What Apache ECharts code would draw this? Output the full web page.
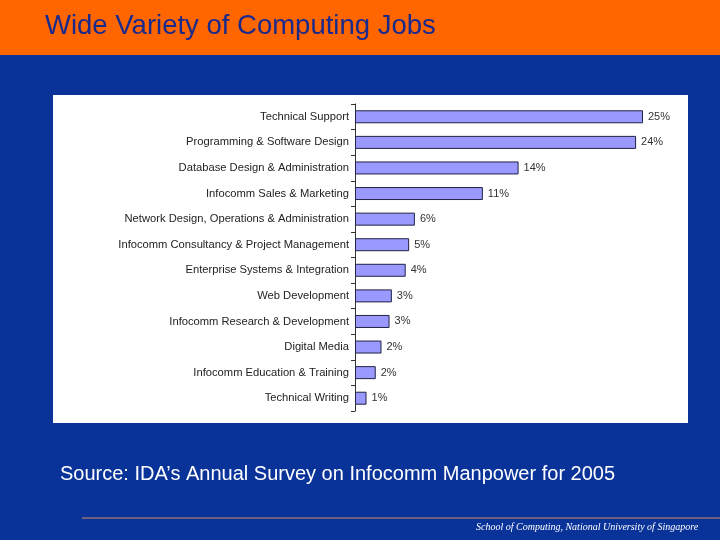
<!DOCTYPE html>
<html><head><meta charset="utf-8">
<script src="https://cdn.jsdelivr.net/npm/echarts@6/dist/echarts.min.js"></script>
<style>html,body{margin:0;padding:0;}#c{width:720px;height:540px;}</style>
</head><body><div id="c"></div>
<script>
const categories = ["Technical Support","Programming & Software Design","Database Design & Administration","Infocomm Sales & Marketing","Network Design, Operations & Administration","Infocomm Consultancy & Project Management","Enterprise Systems & Integration","Web Development","Infocomm Research & Development","Digital Media","Infocomm Education & Training","Technical Writing"];
const values = [25, 24.4, 14.2, 11.1, 5.2, 4.7, 4.4, 3.2, 3.0, 2.3, 1.8, 1.0];
const valueLabels = ["25%","24%","14%","11%","6%","5%","4%","3%","3%","2%","2%","1%"];
const chart = echarts.init(document.getElementById('c'));
chart.setOption({
  animation:false,
  backgroundColor:'#0a3399',
  graphic:[
    {type:'rect',shape:{x:0,y:0,width:720,height:55},style:{fill:'#ff6600'},z:-10},
    {type:'text',left:45,top:12,style:{text:'Wide Variety of Computing Jobs',fill:'#1a2a8c',font:'27.5px Liberation Sans, Arial'}},
    {type:'rect',shape:{x:53,y:95,width:635,height:328},style:{fill:'#ffffff'},z:-10},
    {type:'text',left:60,top:464,style:{text:'Source: IDA\u2019s Annual Survey on Infocomm Manpower for 2005',fill:'#ffffff',font:'20px Liberation Sans, Arial'}},
    {type:'line',shape:{x1:82,y1:518,x2:720,y2:518},style:{stroke:'#d88a60',lineWidth:1}},
    {type:'text',left:476,top:522,style:{text:'School of Computing, National University of Singapore',fill:'#ffffff',font:'italic 10px Liberation Serif'}}
  ],
  grid:{left:355,right:77,top:104,bottom:129},
  xAxis:{type:'value',min:0,max:25,show:false},
  yAxis:{type:'category',data:categories,inverse:true,
    axisLine:{lineStyle:{color:'#333',width:1}},
    axisTick:{show:true,length:4,lineStyle:{color:'#333'}},
    axisLabel:{color:'#222',fontSize:11.2,fontFamily:'Liberation Sans, Arial',margin:6}},
  series:[{type:'bar',data:values,barWidth:13,
    itemStyle:{color:'#9999ff',borderColor:'#222244',borderWidth:1},
    label:{show:true,position:'right',color:'#333',fontSize:11,fontFamily:'Liberation Sans, Arial',
      formatter:p=>valueLabels[p.dataIndex]}}]
});
</script></body></html>
